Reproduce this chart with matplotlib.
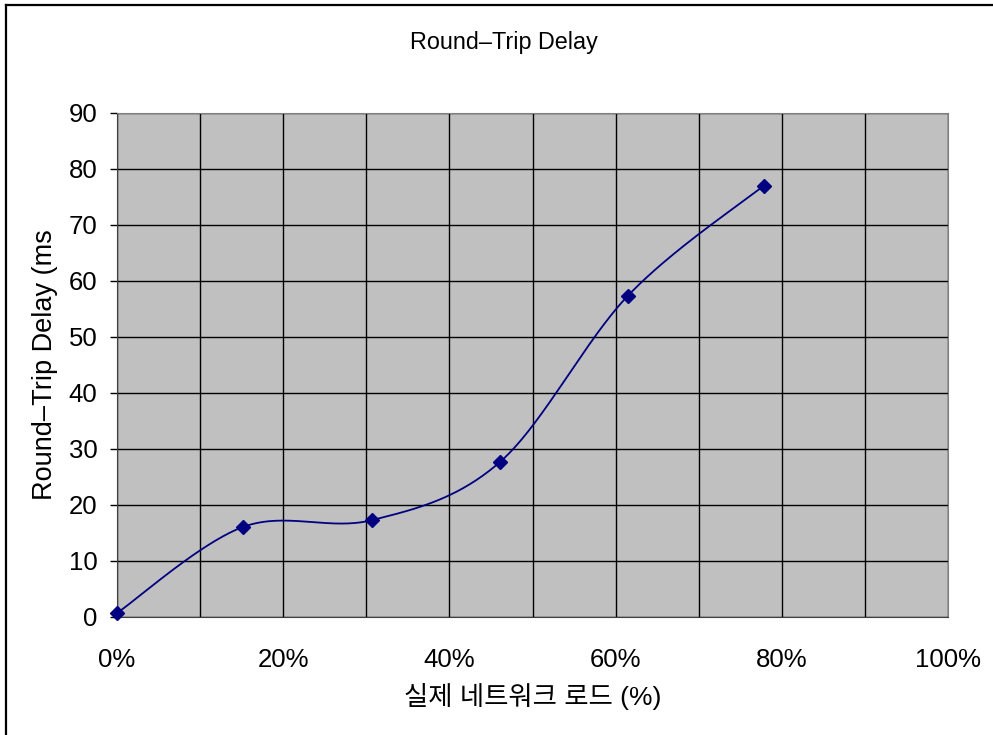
import matplotlib
matplotlib.use('Agg')
import matplotlib.pyplot as plt
import numpy as np
from matplotlib.lines import Line2D

plt.rcParams['font.family'] = ['Liberation Sans', 'Noto Sans CJK KR', 'DejaVu Sans']

# Measured round-trip delay against actual network load
load_pct = np.array([0.0, 15.2, 30.7, 46.1, 61.5, 77.8])
delay_ms = np.array([0.7, 16.1, 17.3, 27.7, 57.4, 77.0])

x_ticks = [0, 20, 40, 60, 80, 100]
x_tick_labels = ['0%', '20%', '40%', '60%', '80%', '100%']
y_ticks = [0, 10, 20, 30, 40, 50, 60, 70, 80, 90]


def smooth_curve(x, y, n=60):
    # Bezier segments with Catmull-Rom style control points (like a spreadsheet "smoothed line")
    pts = np.column_stack([x, y])
    ext = np.vstack([pts[0], pts, pts[-1]])
    out = []
    for i in range(len(pts) - 1):
        p0, p1 = ext[i + 1], ext[i + 2]
        c1 = p0 + (ext[i + 2] - ext[i]) / 6.0
        c2 = p1 - (ext[i + 3] - ext[i + 1]) / 6.0
        t = np.linspace(0, 1, n)[:, None]
        seg = ((1 - t) ** 3) * p0 + 3 * ((1 - t) ** 2) * t * c1 + 3 * (1 - t) * t ** 2 * c2 + t ** 3 * p1
        out.append(seg if i == 0 else seg[1:])
    out = np.vstack(out)
    return out[:, 0], out[:, 1]


fig = plt.figure(figsize=(9.93, 7.35), dpi=100)
ax = fig.add_axes([117 / 993, 1 - 617 / 735, (948 - 117) / 993, (617 - 113) / 735])
ax.set_facecolor('#c0c0c0')

sx, sy = smooth_curve(load_pct, delay_ms)
ax.plot(sx, sy, color='#000080', lw=1.3, zorder=3, clip_on=False)
ax.plot(load_pct, delay_ms, linestyle='none', marker='D', markersize=7,
        color='#000080', zorder=4, clip_on=False)

ax.set_xlim(0, 100)
ax.set_ylim(0, 90)
# gridlines every 10%, labels every 20%
ax.set_xticks(np.arange(0, 101, 10))
ax.set_xticklabels([x_tick_labels[x_ticks.index(v)] if v in x_ticks else ''
                    for v in range(0, 101, 10)])
ax.set_yticks(y_ticks)
ax.grid(True, color='black', lw=1.0)
ax.set_axisbelow(True)

ax.tick_params(axis='x', length=0, pad=22, labelsize=18.5)
ax.tick_params(axis='y', length=5, width=1, direction='out', pad=9, labelsize=18.5)

for side in ['top', 'right']:
    ax.spines[side].set_color('#808080')
ax.spines['left'].set_color('#404040')
ax.spines['bottom'].set_color('#404040')

ax.set_xlabel('실제 네트워크 로드 (%)', fontsize=19, labelpad=8)
ax.set_ylabel('Round–Trip Delay (ms', fontsize=19.5, labelpad=8)

fig.text(504 / 993, 1 - 42 / 735, 'Round–Trip Delay', ha='center', va='center', fontsize=16.8)

# outer frame (top and left edges)
fig.add_artist(Line2D([5.5 / 993, 5.5 / 993], [0, 1 - 5 / 735], transform=fig.transFigure,
                      color='black', lw=1.6))
fig.add_artist(Line2D([5.5 / 993, 1], [1 - 5 / 735, 1 - 5 / 735], transform=fig.transFigure,
                      color='black', lw=1.6))

fig.savefig('out.png', dpi=100)
